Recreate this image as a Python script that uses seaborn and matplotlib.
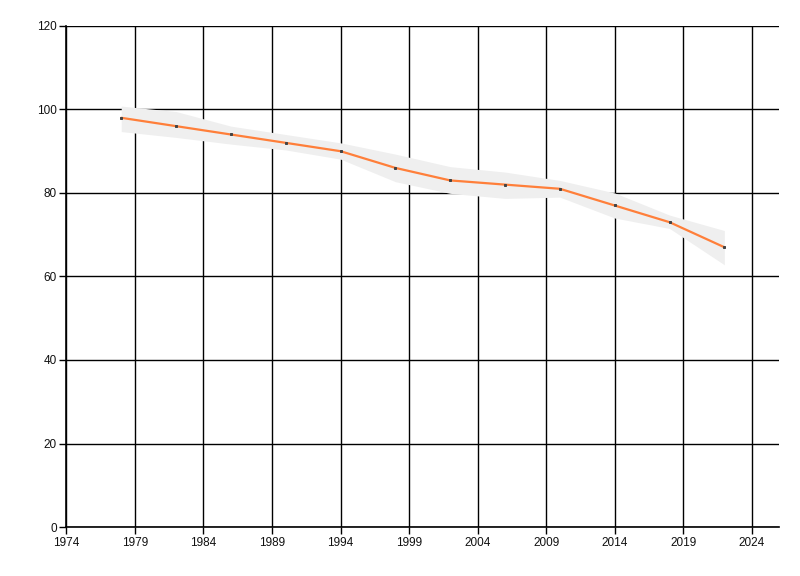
#!/usr/bin/env python
"""
  Line with shaded band, 1978-2022
"""

import matplotlib

matplotlib.use("Agg")
import matplotlib.pylab as plt
import seaborn as sns
import pandas as pd

YEARS = [1978, 1982, 1986, 1990, 1994, 1998, 2002, 2006, 2010, 2014, 2018, 2022]
VALUES = [98, 96, 94, 92, 90, 86, 83, 82, 81, 77, 73, 67]
UPPER = [100.8, 99.5, 96.0, 94.0, 92.0, 89.3, 86.3, 85.0, 83.0, 80.0, 74.7, 71.0]
LOWER = [94.7, 93.3, 91.7, 90.3, 88.1, 82.7, 79.9, 78.7, 79.0, 74.0, 71.5, 62.8]
X_TICKS = [1974, 1979, 1984, 1989, 1994, 1999, 2004, 2009, 2014, 2019, 2024]
Y_TICKS = [0, 20, 40, 60, 80, 100, 120]


def main():
    sns.set_theme(style="white")
    plt.rcParams["font.family"] = ["Liberation Sans Narrow", "Liberation Sans", "DejaVu Sans"]

    frame = pd.DataFrame({"year": YEARS, "value": VALUES, "upper": UPPER, "lower": LOWER})

    fig = plt.figure(figsize=(8, 5.76), dpi=100)
    ax = fig.add_axes([0.083, 0.085, 0.891, 0.87])

    ax.fill_between(frame["year"], frame["lower"], frame["upper"],
                    color="#efefef", linewidth=0, zorder=2)
    sns.lineplot(data=frame, x="year", y="value", ax=ax, color="#ff7f3a",
                 linewidth=1.6, marker="s", markersize=1.4,
                 markerfacecolor="#444444", markeredgecolor="#444444", zorder=3)

    ax.set_xlim(1974, 2026)
    ax.set_ylim(0, 120)
    ax.set_xticks(X_TICKS)
    ax.set_yticks(Y_TICKS)
    ax.set(xlabel="", ylabel="")

    ax.grid(True, color="black", linewidth=1, zorder=1)
    ax.set_axisbelow(True)
    for side in ("top", "right"):
        ax.spines[side].set_visible(False)
    for side in ("left", "bottom"):
        ax.spines[side].set_color("black")
        ax.spines[side].set_linewidth(1.2)
    ax.tick_params(axis="both", which="both", direction="out", length=5,
                   width=1, color="black", labelsize=8.5, labelcolor="#111111",
                   bottom=True, left=True, pad=2)

    fig.savefig("out.png", dpi=100)


if __name__ == "__main__":
    main()
